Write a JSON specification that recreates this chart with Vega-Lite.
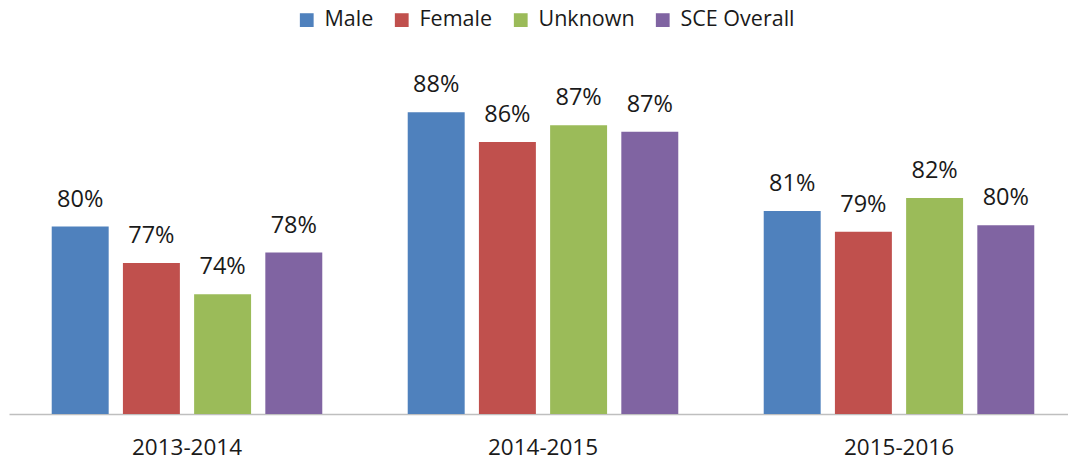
{
  "$schema": "https://vega.github.io/schema/vega-lite/v6.json",
  "width": 1068,
  "height": 354,
  "autosize": {"type": "none"},
  "padding": {"left": 9, "top": 60, "right": 0, "bottom": 49},
  "background": "white",
  "config": {"view": {"stroke": null}, "font": "Open Sans"},
  "data": {
    "values": [
      {"year": "2013-2014", "group": "Male", "rate": 0.796},
      {"year": "2013-2014", "group": "Female", "rate": 0.768},
      {"year": "2013-2014", "group": "Unknown", "rate": 0.744},
      {"year": "2013-2014", "group": "SCE Overall", "rate": 0.776},
      {"year": "2014-2015", "group": "Male", "rate": 0.884},
      {"year": "2014-2015", "group": "Female", "rate": 0.861},
      {"year": "2014-2015", "group": "Unknown", "rate": 0.874},
      {"year": "2014-2015", "group": "SCE Overall", "rate": 0.869},
      {"year": "2015-2016", "group": "Male", "rate": 0.808},
      {"year": "2015-2016", "group": "Female", "rate": 0.792},
      {"year": "2015-2016", "group": "Unknown", "rate": 0.818},
      {"year": "2015-2016", "group": "SCE Overall", "rate": 0.797}
    ]
  },
  "encoding": {
    "x": {
      "field": "year",
      "type": "nominal",
      "scale": {"paddingInner": 0, "paddingOuter": 0},
      "axis": {
        "title": null,
        "labelAngle": 0,
        "ticks": false,
        "grid": false,
        "domainColor": "#BFBFBF",
        "domainWidth": 1.3,
        "labelFontSize": 22.5,
        "labelColor": "#1a1a1a",
        "labelPadding": 22
      }
    },
    "xOffset": {
      "field": "group",
      "type": "nominal",
      "sort": ["Male", "Female", "Unknown", "SCE Overall"],
      "scale": {"paddingInner": 0.2, "paddingOuter": 0.6}
    },
    "y": {
      "field": "rate",
      "type": "quantitative",
      "scale": {"domain": [0.6518, 0.9241], "zero": false, "nice": false},
      "axis": null
    }
  },
  "layer": [
    {
      "mark": {"type": "bar", "clip": true},
      "encoding": {
        "color": {
          "field": "group",
          "type": "nominal",
          "sort": ["Male", "Female", "Unknown", "SCE Overall"],
          "scale": {
            "domain": ["Male", "Female", "Unknown", "SCE Overall"],
            "range": ["#4F81BD", "#C0504D", "#9BBB59", "#8064A2"]
          },
          "legend": {
            "title": null,
            "orient": "none",
            "direction": "horizontal",
            "legendX": 287,
            "legendY": -51,
            "padding": 0,
            "symbolType": "square",
            "symbolSize": 190,
            "symbolStrokeWidth": 0,
            "symbolOpacity": 1,
            "labelFontSize": 21.5,
            "labelColor": "#1a1a1a",
            "labelOffset": 7,
            "columnPadding": 17
          }
        }
      }
    },
    {
      "mark": {"type": "text", "baseline": "alphabetic", "dy": -20, "fontSize": 23.5, "color": "#1a1a1a"},
      "encoding": {
        "text": {"field": "rate", "type": "quantitative", "format": ".0%"}
      }
    }
  ]
}
